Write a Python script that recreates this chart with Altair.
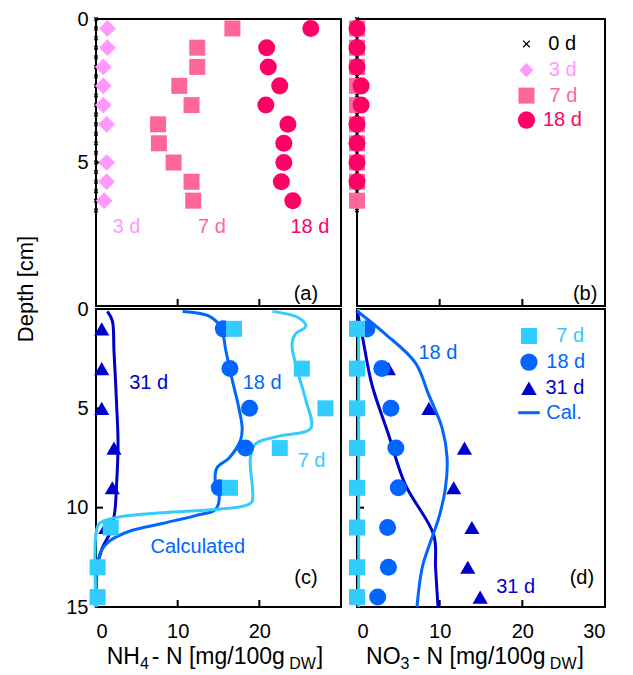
import altair as alt
import pandas as pd

FONT = "Liberation Sans"
FS = 20

# colours
C0 = "#000000"
C3 = "#FF99FF"
C7A = "#FF6699"
C18A = "#FF0066"
C7B = "#33CCFF"
C18B = "#0066FF"
C31 = "#0000CC"

# ---------------- data: top panels (depth cm) ----------------
top_depth = [0.33, 1.0, 1.67, 2.33, 3.0, 3.67, 4.33, 5.0, 5.67, 6.33]
d0_depth = [0.0, 0.33, 0.67, 1.0, 1.33, 1.67, 2.0, 2.33, 2.67, 3.0, 3.33,
            3.67, 4.0, 4.33, 4.67, 5.0, 5.33, 5.67, 6.0, 6.33, 6.67]
d0_val = [0.0] * 21

a_3d_depth = [0.33, 1.0, 1.67, 2.33, 3.0, 3.67, 5.0, 5.67, 6.33]
a_3d = [1.4, 1.4, 0.9, 0.9, 0.9, 1.3, 1.3, 1.3, 1.0]
a_7d = [16.7, 12.4, 12.4, 10.2, 11.7, 7.6, 7.7, 9.5, 11.7, 11.9]
a_18d = [26.3, 20.9, 21.1, 22.5, 20.8, 23.5, 23.0, 23.0, 22.7, 24.1]

b_7d = [0.0, 0.0, 0.0, 0.0, 0.0, 0.0, 0.0, 0.0, 0.0, 0.0]
b_18d_depth = [0.33, 1.0, 1.67, 2.33, 3.0, 3.67, 4.33, 5.0, 5.67]
b_18d = [0.0, 0.0, 0.0, 0.5, 0.5, 0.0, 0.0, 0.0, 0.0]

# ---------------- data: bottom panels ----------------
bot_depth = [1, 3, 5, 7, 9, 11, 13, 14.5]
c_7d = [16.9, 25.2, 28.1, 22.5, 16.4, 1.8, 0.2, 0.2]
c_18d_depth = [1, 3, 5, 7, 9]
c_18d = [15.6, 16.4, 18.8, 18.3, 15.1]
c_31d_depth = [1, 3, 5, 7, 9, 11]
c_31d = [0.7, 0.7, 0.7, 2.2, 2.0, 1.2]

c_cal7_x = [21.6, 24.8, 25.7, 24.4, 24.0, 24.8, 25.7, 26.3, 22.4, 19.5, 18.9,
            19.1, 18.3, 14.2, 8.1, 2.4, 0.4, 0.0, 0.0]
c_cal7_d = [0.12, 0.44, 0.86, 1.27, 1.78, 3.3, 4.6, 6.0, 6.4, 6.8, 7.5,
            9.7, 9.9, 10.1, 10.25, 10.5, 10.8, 11.3, 15.0]
c_cal18_x = [10.6, 13.8, 15.3, 15.9, 16.7, 17.5, 17.9, 17.7, 16.3, 14.8, 14.6,
             15.1, 14.6, 12.2, 8.1, 4.0, 1.6, 0.6, 0.2, 0.0]
c_cal18_d = [0.12, 0.35, 0.94, 2.1, 3.6, 5.0, 6.0, 6.6, 7.5, 8.0, 8.7,
             9.5, 10.1, 10.4, 10.8, 11.2, 11.7, 12.2, 12.85, 15.0]
c_cal31_x = [1.4, 2.0, 2.2, 2.5, 2.7, 2.5, 2.3, 1.8, 0.8, 0.15, 0.0]
c_cal31_d = [0.12, 0.6, 2.1, 4.6, 6.8, 9.0, 10.2, 11.2, 12.0, 13.0, 15.0]

d_7d = [0.0, 0.0, 0.0, 0.0, 0.0, 0.0, 0.0, 0.0]
d_18d = [1.2, 3.0, 4.1, 4.7, 5.0, 3.7, 3.8, 2.5]
d_31d_depth = [3, 5, 7, 9, 11, 13, 14.5]
d_31d = [3.8, 8.7, 13.0, 11.7, 13.9, 13.4, 14.9]

d_cal7_x = [0.2, 0.2]
d_cal7_d = [0.0, 15.0]
d_cal18_x = [0.0, 3.4, 7.05, 8.66, 10.3, 10.9, 10.7, 9.9, 8.9, 7.9, 7.25]
d_cal18_d = [0.1, 1.25, 2.7, 4.3, 6.0, 7.5, 9.0, 10.5, 11.7, 13.0, 15.0]
d_cal31_x = [0.0, 0.6, 1.8, 3.8, 5.8, 9.3, 9.5, 9.8]
d_cal31_d = [0.1, 1.27, 3.8, 6.3, 8.8, 11.4, 13.0, 15.0]

# ---------------- annotations ----------------
a_text = [("3 d", 3.73, 7.26, C3), ("7 d", 14.2, 7.26, C7A),
          ("18 d", 26.2, 7.26, C18A), ("(a)", 25.7, 9.57, C0)]
b_text = [("(b)", 27.6, 9.57, C0)]
c_text = [("31 d", 6.45, 3.71, C31), ("18 d", 20.35, 3.71, C18B),
          ("7 d", 26.4, 7.65, C7B), ("Calculated", 12.46, 11.98, C18B),
          ("(c)", 25.7, 13.52, C0)]
d_text = [("18 d", 9.78, 2.2, C18B), ("31 d", 19.2, 14.0, C31),
          ("(d)", 27.2, 13.52, C0)]

X_PATH = "M -0.5 -0.5 L 0.5 0.5 M -0.5 0.5 L 0.5 -0.5"
# legend (b): symbol, colour, size, symbol x, depth, label, label x
b_legend = [(X_PATH, C0, 180, 20.5, 0.87, "0 d", 23.15),
            ("diamond", C3, 200, 20.5, 1.78, "3 d", 23.2),
            ("square", C7A, 256, 20.5, 2.67, "7 d", 23.3),
            ("circle", C18A, 300, 20.5, 3.52, "18 d", 22.5)]
d_legend = [("square", C7B, 256, 20.8, 1.36, "7 d", 24.1),
            ("circle", C18B, 300, 20.8, 2.67, "18 d", 22.9),
            ("triangle-up", C31, 240, 20.8, 3.99, "31 d", 22.8)]
d_legend_line = (19.5, 22.1, 5.22, C18B, "Cal.", 22.9)

WA, WB = 245, 248
HT, HB = 287, 298
XS = alt.Scale(domain=[0, 30], nice=False, zero=False)
YS_T = alt.Scale(domain=[0, 10], reverse=True, nice=False, zero=False)
YS_B = alt.Scale(domain=[0, 15], reverse=True, nice=False, zero=False)


def axis(values=None, labels=True, pad=8):
    if labels:
        return alt.Axis(values=values, title=None, ticks=False, tickSize=0,
                        domain=False, grid=False, labelFontSize=FS,
                        labelFont=FONT, labelColor="black", labelPadding=pad,
                        labelOverlap=False)
    return alt.Axis(title=None, ticks=False, tickSize=0, domain=False,
                    grid=False, labels=False)


def build(xax, yax, ysc, H, points, lines, texts, legend=(), legend_line=None):
    def X(f="x"):
        return alt.X(f + ":Q", scale=XS, axis=xax)

    def Y(f="d"):
        return alt.Y(f + ":Q", scale=ysc, axis=yax)

    layers = []
    # inward ticks
    layers.append(alt.Chart(pd.DataFrame({"x": [10, 20]})).mark_rule(
        color="black", strokeWidth=2).encode(x=X(), y=alt.value(H), y2=alt.value(H - 7)))
    yt = [5] if H == HT else [5, 10]
    layers.append(alt.Chart(pd.DataFrame({"d": yt})).mark_rule(
        color="black", strokeWidth=2).encode(y=Y(), x=alt.value(0), x2=alt.value(7)))
    for xs_, ds_, col in lines:
        df = pd.DataFrame({"x": xs_, "d": ds_})
        layers.append(alt.Chart(df).mark_line(color=col, strokeWidth=3,
                                              interpolate="catmull-rom").encode(
            x=X(), y=Y(), order=alt.Order("d:Q")))
    for xs_, ds_, col, shape, size in points:
        df = pd.DataFrame({"x": xs_, "d": ds_})
        if shape == X_PATH:
            mk = alt.Chart(df).mark_point(shape=shape, filled=False, stroke=col,
                                          strokeWidth=1.5, size=size, opacity=1)
        else:
            mk = alt.Chart(df).mark_point(shape=shape, filled=True, color=col,
                                          size=size, opacity=1, strokeWidth=0)
        layers.append(mk.encode(x=X(), y=Y()))
    for shape, col, size, sx, sd, lab, lx in legend:
        df = pd.DataFrame({"x": [sx], "d": [sd]})
        if shape == X_PATH:
            mk = alt.Chart(df).mark_point(shape=shape, filled=False, stroke=col,
                                          strokeWidth=1.3, size=size, opacity=1)
        else:
            mk = alt.Chart(df).mark_point(shape=shape, filled=True, color=col,
                                          size=size, opacity=1, strokeWidth=0)
        layers.append(mk.encode(x=X(), y=Y()))
        tdf = pd.DataFrame({"x": [lx], "d": [sd], "t": [lab]})
        layers.append(alt.Chart(tdf).mark_text(font=FONT, fontSize=FS, color=col,
                                               align="left", baseline="middle").encode(
            x=X(), y=Y(), text="t:N"))
    if legend_line:
        x1, x2, ld, col, lab, lx = legend_line
        ldf = pd.DataFrame({"x": [x1, x2], "d": [ld, ld]})
        layers.append(alt.Chart(ldf).mark_line(color=col, strokeWidth=3).encode(
            x=X(), y=Y()))
        tdf = pd.DataFrame({"x": [lx], "d": [ld], "t": [lab]})
        layers.append(alt.Chart(tdf).mark_text(font=FONT, fontSize=FS, color=col,
                                               align="left", baseline="middle").encode(
            x=X(), y=Y(), text="t:N"))
    tdf = pd.DataFrame({"t": [t[0] for t in texts], "x": [t[1] for t in texts],
                        "d": [t[2] for t in texts], "c": [t[3] for t in texts]})
    layers.append(alt.Chart(tdf).mark_text(font=FONT, fontSize=FS, align="center",
                                           baseline="middle").encode(
        x=X(), y=Y(), text="t:N", color=alt.Color("c:N", scale=None)))
    return layers


# char widths (em) for building the axis titles with subscripts
CW = {"N": .722, "H": .722, "O": .778, " ": .278, "-": .333, "[": .278, "]": .278,
      "m": .833, "g": .556, "/": .278, "0": .556, "1": .556, "3": .556, "4": .556,
      "D": .722, "W": .944}


def title_layers(parts, center, ybase):
    # parts: (text, font size, baseline shift, extra gap after)
    widths = [sum(CW[ch] for ch in txt) * size + gap for txt, size, _, gap in parts]
    x = center - sum(widths) / 2
    out = []
    for (txt, size, dy, gap), w in zip(parts, widths):
        df = pd.DataFrame({"t": [txt]})
        out.append(alt.Chart(df).mark_text(font=FONT, fontSize=size, align="left",
                                           baseline="alphabetic", color="black").encode(
            x=alt.value(x), y=alt.value(ybase + dy), text="t:N"))
        x += w
    return out


TF, SUB = 23, 16
a_layers = build(axis(labels=False), axis([0, 5]), YS_T, HT,
                 points=[(d0_val, d0_depth, C0, X_PATH, 45),
                         (a_3d, a_3d_depth, C3, "diamond", 280),
                         (a_7d, top_depth, C7A, "square", 256),
                         (a_18d, top_depth, C18A, "circle", 290)],
                 lines=[], texts=a_text)
b_layers = build(axis(labels=False), axis(labels=False), YS_T, HT,
                 points=[(d0_val, d0_depth, C0, X_PATH, 45),
                         (b_7d, top_depth, C7A, "square", 256),
                         (b_18d, b_18d_depth, C18A, "circle", 290)],
                 lines=[], texts=b_text, legend=b_legend)
c_layers = build(axis([0, 10, 20], pad=14), axis([0, 5, 10, 15]), YS_B, HB,
                 points=[(c_31d, c_31d_depth, C31, "triangle-up", 230),
                         (c_18d, c_18d_depth, C18B, "circle", 290),
                         (c_7d, bot_depth, C7B, "square", 256)],
                 lines=[(c_cal31_x, c_cal31_d, C31), (c_cal18_x, c_cal18_d, C18B),
                        (c_cal7_x, c_cal7_d, C7B)],
                 texts=c_text)
c_layers += title_layers([("NH", TF, 0, 0), ("4", SUB, 5, 3), (" - N [mg/100g", TF, 0, -2),
                          ("DW", SUB, 5, 1), ("]", TF, 0, 0)], 119, HB + 57)
ytitle = alt.Chart(pd.DataFrame({"t": ["Depth [cm]"]})).mark_text(
    font=FONT, fontSize=22, angle=270, align="center", baseline="middle",
    color="black").encode(x=alt.value(-70), y=alt.value(-20), text="t:N")
c_layers.append(ytitle)
d_layers = build(axis([0, 10, 20, 30], pad=14), axis(labels=False), YS_B, HB,
                 points=[(d_31d, d_31d_depth, C31, "triangle-up", 230),
                         (d_18d, bot_depth, C18B, "circle", 290),
                         (d_7d, bot_depth, C7B, "square", 256)],
                 lines=[(d_cal7_x, d_cal7_d, C7B), (d_cal31_x, d_cal31_d, C31),
                        (d_cal18_x, d_cal18_d, C18B)],
                 texts=d_text, legend=d_legend, legend_line=d_legend_line)
d_layers += title_layers([("NO", TF, 0, 0), ("3", SUB, 5, 3), (" - N [mg/100g", TF, 0, -2),
                          ("DW", SUB, 5, 1), ("]", TF, 0, 0)], 118, HB + 57)

pa = alt.layer(*a_layers).properties(width=WA, height=HT)
pb = alt.layer(*b_layers).properties(width=WB, height=HT)
pc = alt.layer(*c_layers).properties(width=WA, height=HB)
pd_ = alt.layer(*d_layers).properties(width=WB, height=HB)

chart = alt.concat(pa, pb, pc, pd_, columns=2,
                   spacing={"row": 3, "column": 16}, bounds="flush").properties(
    padding={"left": 5, "top": 0, "right": 5, "bottom": 5},
    background="white"
).configure_view(stroke="black", strokeWidth=2)

chart.save("out.html", embed_options={"renderer": "svg", "actions": False})
